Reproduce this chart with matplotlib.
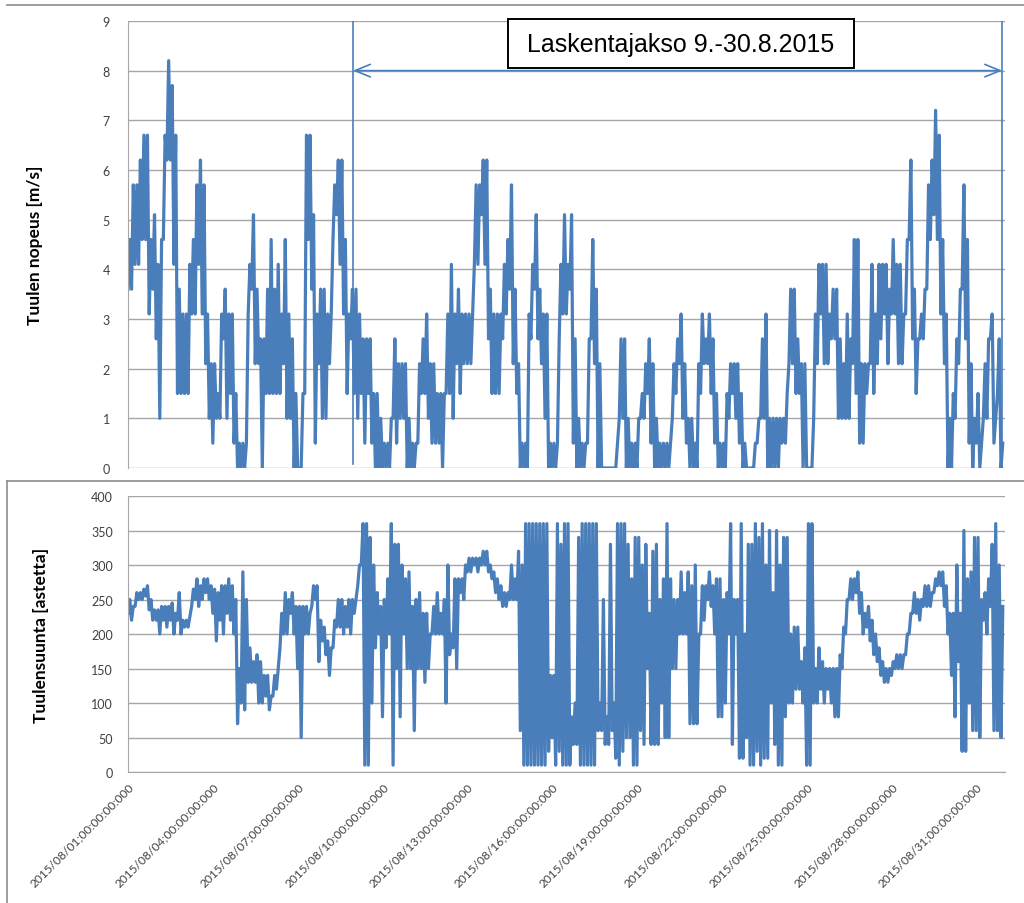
import numpy as np
import matplotlib
matplotlib.use("Agg")
import matplotlib.pyplot as plt
from matplotlib.lines import Line2D
from matplotlib.patches import Rectangle

# Readings per 3-hour window from 1.8.2015 00:00 (one row = one day):
# the low and the high level the hourly line swings between in that window.
speed_lo = [
    3.6, 3.6, 4.1, 4.1, 4.6, 4.6, 3.1, 3.6,
    2.6, 1.0, 4.6, 6.2, 6.2, 4.1, 1.5, 1.5,
    1.5, 1.5, 3.1, 3.1, 4.1, 3.1, 2.1, 1.0,
    0.5, 1.0, 1.0, 2.6, 1.0, 1.5, 0.5, 0.0,
    0.0, 0.0, 3.1, 3.6, 2.1, 2.1, 0.0, 1.5,
    1.5, 1.5, 1.5, 1.5, 2.1, 1.0, 1.0, 0.0,
    0.0, 0.0, 1.5, 4.6, 3.6, 0.5, 2.1, 1.0,
    1.0, 2.1, 4.6, 5.1, 4.1, 3.1, 1.5, 2.6,
    1.5, 1.0, 1.5, 0.5, 1.5, 0.5, 0.0, 0.0,
    0.0, 0.0, 0.0, 1.0, 0.5, 1.0, 1.0, 0.0,
    0.0, 0.0, 0.5, 1.5, 1.5, 1.0, 0.5, 0.5,
    0.5, 0.0, 1.5, 1.5, 1.0, 2.1, 1.5, 2.1,
    2.1, 2.1, 4.1, 4.1, 5.1, 4.1, 2.6, 1.5,
    1.5, 1.5, 2.6, 3.1, 3.6, 2.1, 1.5, 0.0,
    0.0, 0.0, 2.6, 3.6, 2.6, 2.1, 1.0, 0.0,
    0.0, 0.0, 2.6, 3.1, 3.1, 3.6, 0.5, 0.0,
    0.0, 0.0, 0.5, 2.6, 2.1, 0.0, 0.0, 0.0,
    0.0, 0.0, 0.0, 1.0, 1.0, 0.0, 0.0, 0.0,
    0.0, 1.0, 1.0, 1.5, 0.5, 0.0, 0.0, 0.0,
    0.0, 0.0, 1.0, 1.5, 2.1, 1.0, 0.5, 0.0,
    0.0, 0.0, 1.5, 2.1, 2.1, 1.5, 0.5, 0.0,
    0.0, 0.0, 1.0, 1.5, 1.0, 0.5, 0.0, 0.0,
    0.0, 0.0, 0.5, 1.0, 1.0, 0.0, 0.0, 0.0,
    0.0, 0.5, 0.5, 2.1, 2.1, 1.5, 1.5, 0.0,
    0.0, 0.0, 1.0, 2.1, 3.1, 2.1, 2.1, 2.6,
    2.6, 1.0, 1.0, 1.0, 1.0, 2.1, 1.5, 0.5,
    0.5, 1.5, 2.1, 1.5, 2.1, 2.6, 3.1, 2.1,
    3.1, 3.1, 2.1, 2.1, 3.1, 4.6, 2.6, 1.5,
    2.6, 2.6, 3.6, 4.6, 5.1, 4.6, 3.1, 2.1,
    0.0, 0.0, 1.0, 2.1, 3.6, 2.6, 0.5, 0.0,
    0.5, 0.0, 1.0, 1.0, 2.6, 0.5, 1.5, 0.0,
]
speed_hi = [
    4.6, 5.7, 5.7, 6.2, 6.7, 6.7, 4.6, 5.1,
    4.1, 4.6, 6.7, 8.2, 7.7, 6.7, 3.6, 3.1,
    3.1, 4.1, 4.6, 5.7, 6.2, 5.7, 3.1, 2.1,
    2.1, 1.5, 3.1, 3.6, 3.1, 3.1, 1.5, 0.5,
    0.5, 0.5, 4.1, 5.1, 3.6, 2.6, 2.6, 3.6,
    4.6, 3.6, 4.1, 3.1, 4.6, 3.1, 2.6, 1.5,
    0.0, 1.5, 6.7, 6.7, 5.1, 3.1, 3.6, 3.6,
    3.1, 3.1, 5.7, 6.2, 6.2, 4.6, 3.1, 3.6,
    3.6, 3.1, 2.6, 2.6, 2.6, 1.5, 1.5, 1.0,
    0.5, 0.5, 1.0, 2.6, 2.1, 2.1, 2.1, 1.0,
    0.5, 0.5, 2.1, 2.6, 3.1, 2.1, 2.1, 1.5,
    1.5, 1.5, 3.1, 4.1, 3.1, 3.6, 3.1, 3.1,
    3.1, 3.1, 5.7, 5.7, 6.2, 6.2, 3.6, 3.1,
    3.1, 3.1, 4.1, 4.6, 5.7, 3.6, 2.1, 0.5,
    0.5, 3.1, 4.1, 5.1, 3.6, 3.1, 3.1, 0.5,
    0.5, 0.5, 4.1, 5.1, 4.1, 5.1, 2.6, 1.0,
    0.5, 0.5, 2.6, 4.6, 3.6, 2.1, 0.0, 0.0,
    0.0, 0.0, 0.5, 2.6, 2.6, 1.0, 0.5, 0.5,
    1.0, 1.5, 2.1, 2.6, 2.1, 1.0, 0.5, 0.5,
    0.5, 0.5, 2.1, 2.6, 3.1, 2.1, 1.0, 1.0,
    0.5, 2.1, 3.1, 2.6, 3.1, 2.6, 1.5, 0.5,
    0.5, 1.5, 2.1, 2.1, 2.1, 1.5, 0.5, 0.0,
    0.0, 0.5, 1.0, 2.6, 3.1, 1.0, 1.0, 1.0,
    1.0, 1.0, 1.5, 3.6, 3.6, 2.6, 2.1, 2.1,
    0.0, 0.0, 3.1, 4.1, 4.1, 4.1, 3.1, 3.6,
    3.6, 2.6, 2.1, 3.1, 2.6, 4.6, 4.6, 2.1,
    2.1, 2.1, 4.1, 3.1, 4.1, 4.1, 4.1, 3.6,
    4.6, 4.1, 4.1, 3.1, 4.6, 6.2, 3.6, 2.6,
    3.1, 3.6, 5.7, 6.2, 7.2, 6.7, 4.6, 3.1,
    1.0, 1.5, 2.6, 3.6, 5.7, 4.6, 2.1, 1.0,
    1.5, 0.5, 2.1, 2.6, 3.1, 1.0, 2.6, 0.5,
]

dir_lo = [
    230, 220, 240, 250, 250, 255, 235, 220,
    220, 200, 220, 210, 220, 200, 220, 200,
    210, 210, 240, 250, 240, 250, 260, 250,
    230, 190, 220, 200, 230, 220, 200, 70,
    100, 90, 130, 130, 130, 100, 100, 110,
    90, 110, 120, 180, 200, 200, 230, 200,
    150, 50, 200, 200, 240, 250, 160, 190,
    170, 140, 180, 210, 210, 200, 210, 200,
    230, 270, 300, 10, 10, 100, 180, 200,
    80, 180, 200, 10, 150, 80, 200, 150,
    150, 60, 150, 150, 130, 150, 200, 200,
    200, 200, 100, 170, 180, 150, 260, 250,
    290, 290, 300, 290, 300, 300, 290, 280,
    260, 250, 240, 240, 250, 250, 250, 60,
    10, 10, 10, 10, 10, 10, 10, 30,
    50, 10, 30, 10, 10, 10, 40, 40,
    10, 10, 10, 10, 10, 60, 60, 40,
    40, 60, 20, 10, 30, 50, 50, 10,
    10, 60, 40, 150, 40, 40, 40, 100,
    50, 50, 150, 150, 200, 200, 200, 70,
    70, 70, 200, 220, 250, 240, 200, 80,
    80, 100, 200, 40, 200, 20, 20, 50,
    10, 10, 30, 10, 20, 20, 100, 40,
    10, 10, 80, 100, 100, 120, 120, 100,
    10, 10, 100, 100, 120, 100, 120, 100,
    80, 80, 150, 200, 250, 250, 260, 230,
    200, 210, 190, 170, 160, 140, 130, 130,
    140, 150, 150, 150, 170, 200, 230, 230,
    220, 240, 240, 240, 260, 270, 270, 240,
    200, 140, 80, 160, 30, 30, 100, 60,
    60, 50, 220, 200, 240, 60, 60, 50,
]
dir_hi = [
    250, 240, 260, 260, 265, 270, 250, 235,
    235, 240, 240, 240, 245, 230, 260, 220,
    220, 225, 265, 280, 270, 280, 280, 270,
    265, 260, 270, 270, 280, 270, 250, 150,
    290, 250, 180, 160, 170, 160, 140, 140,
    110, 140, 150, 230, 260, 250, 260, 240,
    240, 240, 240, 230, 270, 270, 220, 210,
    190, 180, 220, 250, 250, 240, 250, 250,
    250, 300, 360, 360, 340, 300, 260, 240,
    250, 280, 360, 330, 330, 300, 280, 290,
    240, 250, 260, 230, 230, 200, 240, 260,
    230, 250, 300, 200, 280, 280, 280, 300,
    310, 310, 310, 310, 320, 320, 300, 290,
    280, 270, 260, 260, 300, 280, 320, 300,
    360, 360, 360, 360, 360, 360, 360, 140,
    140, 360, 330, 360, 360, 80, 100, 340,
    360, 360, 360, 360, 360, 100, 250, 80,
    330, 100, 360, 360, 360, 330, 280, 340,
    340, 300, 330, 230, 320, 330, 250, 280,
    360, 280, 250, 250, 290, 260, 290, 270,
    300, 200, 270, 270, 290, 270, 280, 280,
    250, 260, 360, 250, 250, 360, 200, 330,
    330, 360, 340, 360, 300, 350, 260, 350,
    300, 340, 340, 200, 210, 210, 160, 180,
    360, 360, 150, 180, 160, 150, 150, 150,
    150, 170, 210, 250, 280, 280, 290, 260,
    230, 240, 220, 200, 180, 160, 150, 150,
    160, 170, 170, 170, 200, 230, 260, 250,
    250, 270, 270, 260, 280, 290, 290, 270,
    230, 230, 300, 230, 350, 280, 290, 340,
    340, 250, 260, 280, 330, 360, 300, 240,
]

tick_days = list(range(0, 31, 3))
tick_labels = ["2015/08/%02d;00:00:00:000" % (d + 1) for d in tick_days]

period_start = 7.95   # 9.8.2015
period_end = 30.92
period_text = "Laskentajakso 9.-30.8.2015"


def swing(lo, hi):
    # hourly line swinging between the low and the high level of each window
    return np.column_stack([lo, hi]).ravel()


speed = swing(speed_lo, speed_hi)
direction = swing(dir_lo, dir_hi)
days = np.arange(len(speed)) * 1.5 / 24.0

blue = "#4A7EBB"
grid_c = "#A6A6A6"
text_c = "#404040"
plt.rcParams['font.family'] = ['Lato', 'DejaVu Sans']

fig = plt.figure(figsize=(10.24, 9.04), dpi=100)

# ---------- wind speed ----------
ax1 = fig.add_axes([0.125, 0.4812, 0.856, 0.4945])
ax1.plot(days, speed, color=blue, lw=2.3)
ax1.set_xlim(0, 31)
ax1.set_ylim(0, 9)
ax1.set_yticks(range(0, 10))
ax1.set_xticks([])
ax1.grid(axis='y', color=grid_c, lw=1.0)
ax1.set_axisbelow(True)
for s in ['top', 'right', 'bottom']:
    ax1.spines[s].set_visible(False)
ax1.spines['left'].set_color(grid_c)
ax1.tick_params(axis='y', length=0, pad=13, labelsize=9, labelcolor=text_c)

# calculation period markers
ax1.plot([period_start, period_start], [0.08, 9], color=blue, lw=1.2)
ax1.plot([period_end, period_end], [0, 9], color=blue, lw=1.2)
ax1.annotate("", xy=(period_end, 8), xytext=(period_start, 8),
             arrowprops=dict(arrowstyle="<->,head_length=1.1,head_width=0.45",
                             color=blue, lw=1.2, shrinkA=0, shrinkB=0))
ax1.add_patch(Rectangle((13.43, 8.05), 12.26, 0.99, fc='white', ec='black',
                        lw=1.4, clip_on=False, zorder=4))
ax1.text(19.56, 8.545, period_text, ha='center', va='center', fontsize=18,
         family='Liberation Sans', color='black', zorder=5)

# ---------- wind direction ----------
ax2 = fig.add_axes([0.125, 0.1449, 0.856, 0.3053])
ax2.plot(days, direction, color=blue, lw=2.3)
ax2.set_xlim(0, 31)
ax2.set_ylim(0, 400)
ax2.set_yticks(range(0, 401, 50))
ax2.set_xticks(tick_days)
ax2.set_xticklabels(tick_labels, rotation=45, ha='right', rotation_mode='anchor')
ax2.grid(axis='y', color=grid_c, lw=1.0)
ax2.set_axisbelow(True)
for s in ['top', 'right']:
    ax2.spines[s].set_visible(False)
ax2.spines['left'].set_color(grid_c)
ax2.spines['bottom'].set_color(grid_c)
ax2.tick_params(axis='y', length=0, pad=11, labelsize=9, labelcolor=text_c)
ax2.tick_params(axis='x', length=0, pad=6, labelsize=8.6, labelcolor=text_c)

# axis titles
fig.text(35 / 1024, 1 - 245 / 904, "Tuulen nopeus [m/s]", rotation=90,
         ha='center', va='center', fontsize=12.5, weight='bold', color='black')
fig.text(41 / 1024, 1 - 635 / 904, "Tuulensuunta [astetta]", rotation=90,
         ha='center', va='center', fontsize=12.5, weight='bold', color='black')

# frames of the two pasted charts
frame_c = '#8C8C8C'
fig.add_artist(Line2D([7 / 1024, 1], [1 - 6 / 904, 1 - 6 / 904], color=frame_c, lw=1.2))
fig.add_artist(Line2D([7 / 1024, 1], [1 - 482 / 904, 1 - 482 / 904], color=frame_c, lw=1.2))
fig.add_artist(Line2D([7 / 1024, 7 / 1024], [0, 1 - 482 / 904], color=frame_c, lw=1.2))

fig.savefig("out.png", dpi=100)
